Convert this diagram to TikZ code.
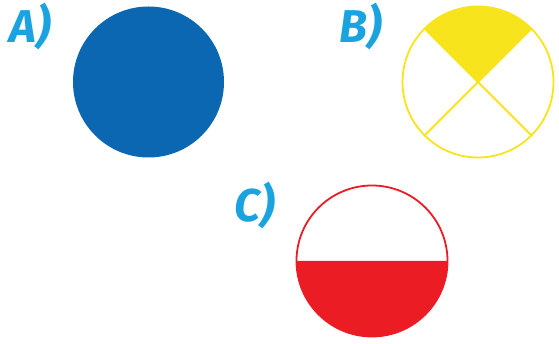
\documentclass[tikz,border=0pt]{standalone}
\usepackage{fontspec}
\setsansfont{Fira Sans}
\usepackage{xcolor}
\definecolor{discblue}{HTML}{0B67B2}
\definecolor{discyellow}{HTML}{F8E41C}
\definecolor{discred}{HTML}{EC1C24}
\definecolor{labelblue}{HTML}{1BA3E0}
\usetikzlibrary{positioning}

\begin{document}
\begin{tikzpicture}[x=1pt, y=1pt,
    every node/.style={font=\sffamily},
    tag/.style={text=labelblue, font=\fontsize{46}{46}\selectfont\sffamily\bfseries\itshape, inner sep=0pt},
    rim/.style={line width=1.8pt}]

  \useasboundingbox (0,0) rectangle (559,344);

  \def\rad{75.5}

  % Labels
  \node[tag] (labA) at (30,318) {A)};
  \node[tag] (labB) at (361,318) {B)};
  \node[tag] (labC) at (255,139) {C)};

  % A: full disc
  \coordinate (cA) at (148.5,262);
  \fill[discblue] (cA) circle[radius=\rad];

  % B: quarter filled
  \coordinate (cB) at (478,262);
  \fill[discyellow] (cB) -- ++(45:\rad) arc[start angle=45, end angle=135, radius=\rad] -- cycle;
  \draw[discyellow, rim] (cB) circle[radius=\rad];
  \foreach \ang in {45,135,225,315}
    \draw[discyellow, rim] (cB) -- ++(\ang:\rad);

  % C: lower half filled
  \coordinate (cC) at (372,83);
  \fill[discred] (cC) ++(180:\rad) arc[start angle=180, end angle=360, radius=\rad] -- cycle;
  \draw[discred, rim] (cC) circle[radius=\rad];
\end{tikzpicture}
\end{document}
